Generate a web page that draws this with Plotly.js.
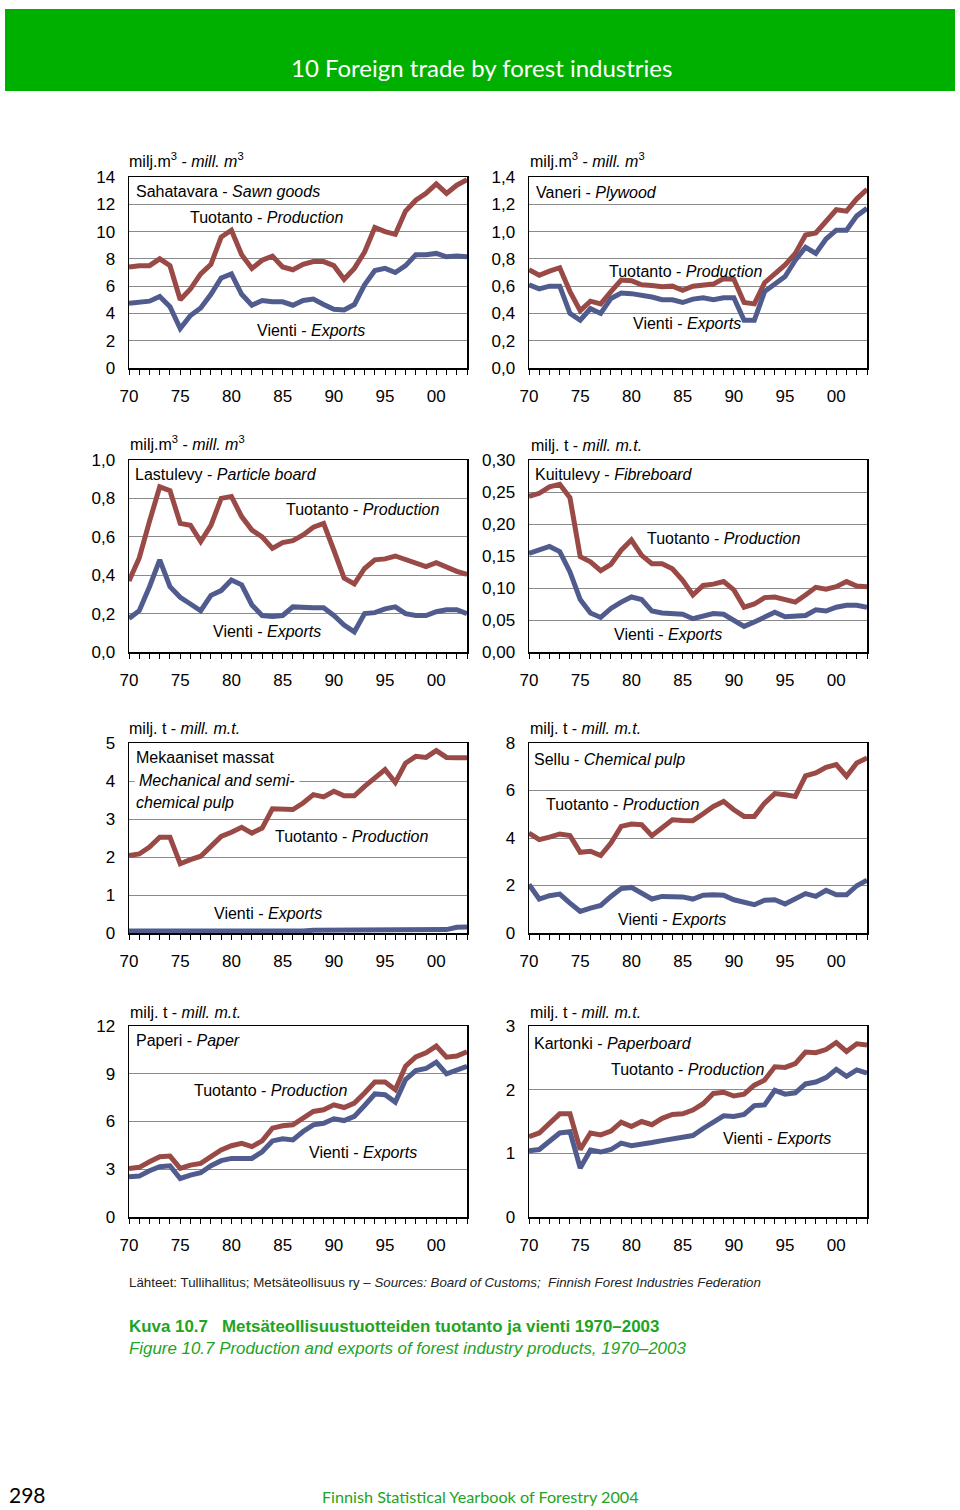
<!DOCTYPE html>
<html><head><meta charset="utf-8">
<script src="https://cdn.plot.ly/plotly-3.0.1.min.js"></script>
<style>html,body{margin:0;padding:0;background:#fff}#chart{width:960px;height:1510px}</style>
</head><body><div id="chart"></div>
<script>
// ---------- DATA ----------
const years = [1970,1971,1972,1973,1974,1975,1976,1977,1978,1979,1980,1981,1982,1983,1984,1985,1986,1987,1988,1989,1990,1991,1992,1993,1994,1995,1996,1997,1998,1999,2000,2001,2002,2003];
const xTickVals = [1970,1975,1980,1985,1990,1995,2000];
const xTickText = ['70','75','80','85','90','95','00'];

const sawnProd = [7.4,7.5,7.5,8.0,7.5,5.0,5.8,6.9,7.6,9.6,10.1,8.3,7.3,7.9,8.2,7.4,7.2,7.6,7.8,7.8,7.5,6.5,7.3,8.5,10.3,10.0,9.8,11.5,12.3,12.8,13.5,12.8,13.4,13.8];
const sawnExp  = [4.75,4.8,4.9,5.25,4.5,2.9,3.85,4.4,5.4,6.6,6.9,5.4,4.6,4.95,4.85,4.85,4.6,4.95,5.05,4.65,4.3,4.25,4.65,6.1,7.15,7.3,7.0,7.5,8.3,8.3,8.4,8.15,8.2,8.15];

const plyProd = [0.72,0.68,0.71,0.735,0.56,0.42,0.49,0.47,0.56,0.645,0.64,0.61,0.605,0.595,0.60,0.57,0.60,0.61,0.615,0.655,0.65,0.48,0.47,0.625,0.69,0.755,0.84,0.975,0.99,1.07,1.16,1.15,1.24,1.31];
const plyExp  = [0.61,0.58,0.60,0.60,0.40,0.35,0.435,0.40,0.51,0.55,0.545,0.535,0.52,0.50,0.50,0.48,0.505,0.515,0.50,0.515,0.515,0.35,0.35,0.56,0.62,0.67,0.79,0.885,0.84,0.945,1.01,1.01,1.115,1.17];

const partProd = [0.37,0.49,0.68,0.86,0.84,0.67,0.66,0.575,0.66,0.80,0.81,0.705,0.635,0.60,0.54,0.57,0.58,0.61,0.65,0.67,0.53,0.385,0.355,0.435,0.48,0.485,0.50,0.48,0.46,0.445,0.465,0.44,0.42,0.405];
const partExp  = [0.175,0.215,0.34,0.48,0.34,0.285,0.25,0.215,0.295,0.32,0.375,0.35,0.245,0.19,0.185,0.19,0.235,0.23,0.23,0.23,0.19,0.14,0.105,0.20,0.205,0.225,0.235,0.20,0.19,0.19,0.21,0.22,0.22,0.20];

const fibreProd = [0.243,0.248,0.258,0.262,0.241,0.149,0.141,0.127,0.137,0.159,0.175,0.151,0.138,0.138,0.130,0.112,0.089,0.104,0.106,0.110,0.097,0.070,0.075,0.085,0.086,0.081,0.078,0.089,0.101,0.098,0.102,0.110,0.103,0.102];
const fibreExp  = [0.154,0.159,0.165,0.157,0.125,0.082,0.061,0.054,0.068,0.078,0.086,0.082,0.064,0.061,0.060,0.059,0.052,0.056,0.060,0.059,0.050,0.040,0.047,0.055,0.062,0.055,0.056,0.057,0.066,0.064,0.070,0.073,0.073,0.070];

const mechProd = [2.04,2.08,2.26,2.52,2.52,1.82,1.93,2.02,2.28,2.54,2.65,2.78,2.63,2.76,3.27,3.27,3.25,3.42,3.64,3.58,3.73,3.61,3.61,3.86,4.10,4.30,3.96,4.47,4.65,4.62,4.80,4.62,4.61,4.61];
const mechExp  = [0.05,0.05,0.06,0.05,0.05,0.03,0.03,0.03,0.03,0.03,0.03,0.03,0.03,0.03,0.03,0.03,0.04,0.05,0.07,0.07,0.06,0.06,0.07,0.07,0.07,0.06,0.06,0.07,0.08,0.08,0.09,0.09,0.15,0.16];

const chemProd = [4.21,3.93,4.04,4.17,4.10,3.40,3.44,3.26,3.79,4.49,4.59,4.56,4.10,4.42,4.77,4.74,4.73,5.02,5.33,5.54,5.19,4.91,4.91,5.47,5.87,5.82,5.75,6.62,6.74,6.98,7.09,6.60,7.16,7.37];
const chemExp  = [2.04,1.43,1.57,1.64,1.26,0.91,1.05,1.16,1.54,1.87,1.92,1.68,1.43,1.54,1.54,1.52,1.43,1.59,1.61,1.59,1.40,1.29,1.19,1.38,1.40,1.22,1.45,1.66,1.54,1.80,1.61,1.61,1.99,2.22];

const paperProd = [3.05,3.12,3.47,3.79,3.83,3.05,3.26,3.37,3.79,4.21,4.48,4.63,4.42,4.78,5.58,5.73,5.79,6.21,6.63,6.74,7.05,6.88,7.16,7.79,8.48,8.48,8.00,9.47,10.06,10.32,10.74,10.04,10.11,10.38];
const paperExp  = [2.53,2.57,2.91,3.16,3.22,2.42,2.63,2.78,3.22,3.54,3.68,3.68,3.68,4.10,4.78,4.91,4.84,5.37,5.79,5.89,6.17,6.06,6.32,7.01,7.73,7.68,7.22,8.63,9.20,9.33,9.73,8.99,9.20,9.47];

const boardProd = [1.26,1.32,1.47,1.62,1.62,1.06,1.32,1.29,1.35,1.49,1.42,1.50,1.45,1.55,1.61,1.62,1.68,1.78,1.94,1.96,1.90,1.93,2.07,2.15,2.36,2.35,2.41,2.59,2.58,2.63,2.74,2.60,2.72,2.70];
const boardExp  = [1.04,1.06,1.19,1.32,1.34,0.77,1.05,1.02,1.06,1.16,1.12,1.14,1.17,1.20,1.23,1.25,1.28,1.39,1.49,1.59,1.58,1.61,1.75,1.76,1.99,1.93,1.95,2.09,2.12,2.19,2.32,2.21,2.31,2.26];

const yTicksSawn  = [0,2,4,6,8,10,12,14];
const yTextSawn   = ['0','2','4','6','8','10','12','14'];
const yTicksPly   = [0,0.2,0.4,0.6,0.8,1.0,1.2,1.4];
const yTextPly    = ['0,0','0,2','0,4','0,6','0,8','1,0','1,2','1,4'];
const yTicksPart  = [0,0.2,0.4,0.6,0.8,1.0];
const yTextPart   = ['0,0','0,2','0,4','0,6','0,8','1,0'];
const yTicksFibre = [0,0.05,0.10,0.15,0.20,0.25,0.30];
const yTextFibre  = ['0,00','0,05','0,10','0,15','0,20','0,25','0,30'];
const yTicksMech  = [0,1,2,3,4,5];
const yTextMech   = ['0','1','2','3','4','5'];
const yTicksChem  = [0,2,4,6,8];
const yTextChem   = ['0','2','4','6','8'];
const yTicksPaper = [0,3,6,9,12];
const yTextPaper  = ['0','3','6','9','12'];
const yTicksBoard = [0,1,2,3];
const yTextBoard  = ['0','1','2','3'];

// ---------- LAYOUT ----------
const W = 960, H = 1510;
const px = x => x / W, py = y => 1 - y / H;
const FONT = '"Liberation Sans", Arial, sans-serif';
const RED = '#9A4A46', BLUE = '#515C8E';
const cols = [[129, 467], [529, 867]];
const rows = [[177, 368], [460, 652], [743, 933], [1026, 1217]];

const panels = [
  {prod: sawnProd,  exp: sawnExp,  r: 0, c: 0, yr: 14,   tv: yTicksSawn,  tt: yTextSawn},
  {prod: plyProd,   exp: plyExp,   r: 0, c: 1, yr: 1.4,  tv: yTicksPly,   tt: yTextPly},
  {prod: partProd,  exp: partExp,  r: 1, c: 0, yr: 1.0,  tv: yTicksPart,  tt: yTextPart},
  {prod: fibreProd, exp: fibreExp, r: 1, c: 1, yr: 0.30, tv: yTicksFibre, tt: yTextFibre},
  {prod: mechProd,  exp: mechExp,  r: 2, c: 0, yr: 5,    tv: yTicksMech,  tt: yTextMech},
  {prod: chemProd,  exp: chemExp,  r: 2, c: 1, yr: 8,    tv: yTicksChem,  tt: yTextChem},
  {prod: paperProd, exp: paperExp, r: 3, c: 0, yr: 12,   tv: yTicksPaper, tt: yTextPaper},
  {prod: boardProd, exp: boardExp, r: 3, c: 1, yr: 3,    tv: yTicksBoard, tt: yTextBoard}
];

const traces = [];
const layout = {
  width: W, height: H,
  margin: {l: 0, r: 0, t: 0, b: 0},
  paper_bgcolor: '#fff', plot_bgcolor: '#fff',
  showlegend: false,
  font: {family: FONT, size: 16, color: '#000'},
  shapes: [],
  annotations: []
};

panels.forEach((p, i) => {
  const n = i + 1;
  const xk = n === 1 ? 'x' : 'x' + n;
  const yk = n === 1 ? 'y' : 'y' + n;
  traces.push({x: years, y: p.prod, xaxis: xk, yaxis: yk, type: 'scatter', mode: 'lines',
    line: {color: RED, width: 5}, hoverinfo: 'skip'});
  traces.push({x: years, y: p.exp, xaxis: xk, yaxis: yk, type: 'scatter', mode: 'lines',
    line: {color: BLUE, width: 5}, hoverinfo: 'skip'});
  const c = cols[p.c], r = rows[p.r];
  layout['xaxis' + (n === 1 ? '' : n)] = {
    domain: [px(c[0]), px(c[1])], range: [1970, 2003], anchor: yk,
    tickmode: 'array', tickvals: xTickVals, ticktext: xTickText,
    ticks: 'outside', ticklen: 5, tickwidth: 1, tickcolor: '#000',
    minor: {tickmode: 'linear', tick0: 1970, dtick: 1, ticks: 'outside', ticklen: 5, tickwidth: 1, tickcolor: '#000', showgrid: false},
    showgrid: false, zeroline: false,
    showline: true, linecolor: '#000', linewidth: 1.5, mirror: true,
    tickfont: {family: FONT, size: 17, color: '#000'}, ticklabelstandoff: 7,
    fixedrange: true
  };
  layout['yaxis' + (n === 1 ? '' : n)] = {
    domain: [py(r[1]), py(r[0])], range: [0, p.yr], anchor: xk,
    tickmode: 'array', tickvals: p.tv, ticktext: p.tt,
    ticks: '', showgrid: true, gridcolor: '#8a8a8a', gridwidth: 1, zeroline: false,
    showline: true, linecolor: '#000', linewidth: 1.5, mirror: true,
    tickfont: {family: FONT, size: 17, color: '#000'}, ticklabelstandoff: 9,
    fixedrange: true
  };
});

function ann(text, x, y, opts) {
  layout.annotations.push(Object.assign({
    text: text, xref: 'paper', yref: 'paper', x: px(x), y: py(y),
    xanchor: 'left', yanchor: 'middle', showarrow: false,
    font: {family: FONT, size: 16, color: '#000'}
  }, opts || {}));
}
const U1 = 'milj.m<sup>3</sup> - <i>mill. m</i><sup>3</sup>';
const U2 = 'milj. t - <i>mill. m.t.</i>';
const PR = 'Tuotanto - <i>Production</i>';
const EX = 'Vienti - <i>Exports</i>';

ann(U1, 127, 160); ann('Sahatavara - <i>Sawn goods</i>', 134, 191); ann(PR, 188, 217); ann(EX, 255, 330);
ann(U1, 528, 160); ann('Vaneri - <i>Plywood</i>', 534, 192); ann(PR, 607, 271); ann(EX, 631, 323);
ann(U1, 128, 443); ann('Lastulevy - <i>Particle board</i>', 133, 475); ann(PR, 284, 510); ann(EX, 211, 632);
ann(U2, 529, 446); ann('Kuitulevy - <i>Fibreboard</i>', 533, 475); ann(PR, 645, 538); ann(EX, 612, 634);
ann(U2, 127, 728); ann('Mekaaniset massat', 134, 757);
ann('<i>Mechanical and semi-</i>', 134, 780, {bgcolor: '#fff', borderpad: 4});
ann('<i>chemical pulp</i>', 134, 802); ann(PR, 273, 836); ann(EX, 212, 914);
ann(U2, 528, 728); ann('Sellu - <i>Chemical pulp</i>', 532, 759); ann(PR, 544, 804); ann(EX, 616, 919);
ann(U2, 128, 1012); ann('Paperi - <i>Paper</i>', 134, 1040); ann(PR, 192, 1090); ann(EX, 307, 1152);
ann(U2, 528, 1012); ann('Kartonki - <i>Paperboard</i>', 532, 1043); ann(PR, 609, 1069); ann(EX, 721, 1138);

// header band
layout.shapes.push({type: 'rect', xref: 'paper', yref: 'paper', x0: px(5), x1: px(955), y0: py(91), y1: py(9),
  fillcolor: '#00B000', line: {width: 0}, layer: 'below'});
const GILL = 'Lato, "Open Sans", sans-serif';
ann('10 Foreign trade by forest industries', 481, 68, {xanchor: 'center', font: {family: GILL, size: 24, color: '#fff'}});

// footnotes
ann('Lähteet: Tullihallitus; Metsäteollisuus ry – <i>Sources: Board of Customs;\u00A0 Finnish Forest Industries Federation</i>', 127, 1282,
  {font: {family: FONT, size: 13.3, color: '#222'}});
ann('<b>Kuva 10.7\u00A0\u00A0 Metsäteollisuustuotteiden tuotanto ja vienti 1970–2003</b>', 127, 1326,
  {font: {family: FONT, size: 16.9, color: '#22A322'}});
ann('<i>Figure 10.7 Production and exports of forest industry products, 1970–2003</i>', 127, 1348,
  {font: {family: FONT, size: 16.9, color: '#22A322'}});

ann('298', 7, 1494, {font: {family: GILL, size: 21, color: '#000'}});
ann('Finnish Statistical Yearbook of Forestry 2004', 480, 1496, {xanchor: 'center', font: {family: GILL, size: 16.2, color: '#22A322'}});

Plotly.newPlot('chart', traces, layout, {staticPlot: true, displayModeBar: false});
</script>
</body></html>
